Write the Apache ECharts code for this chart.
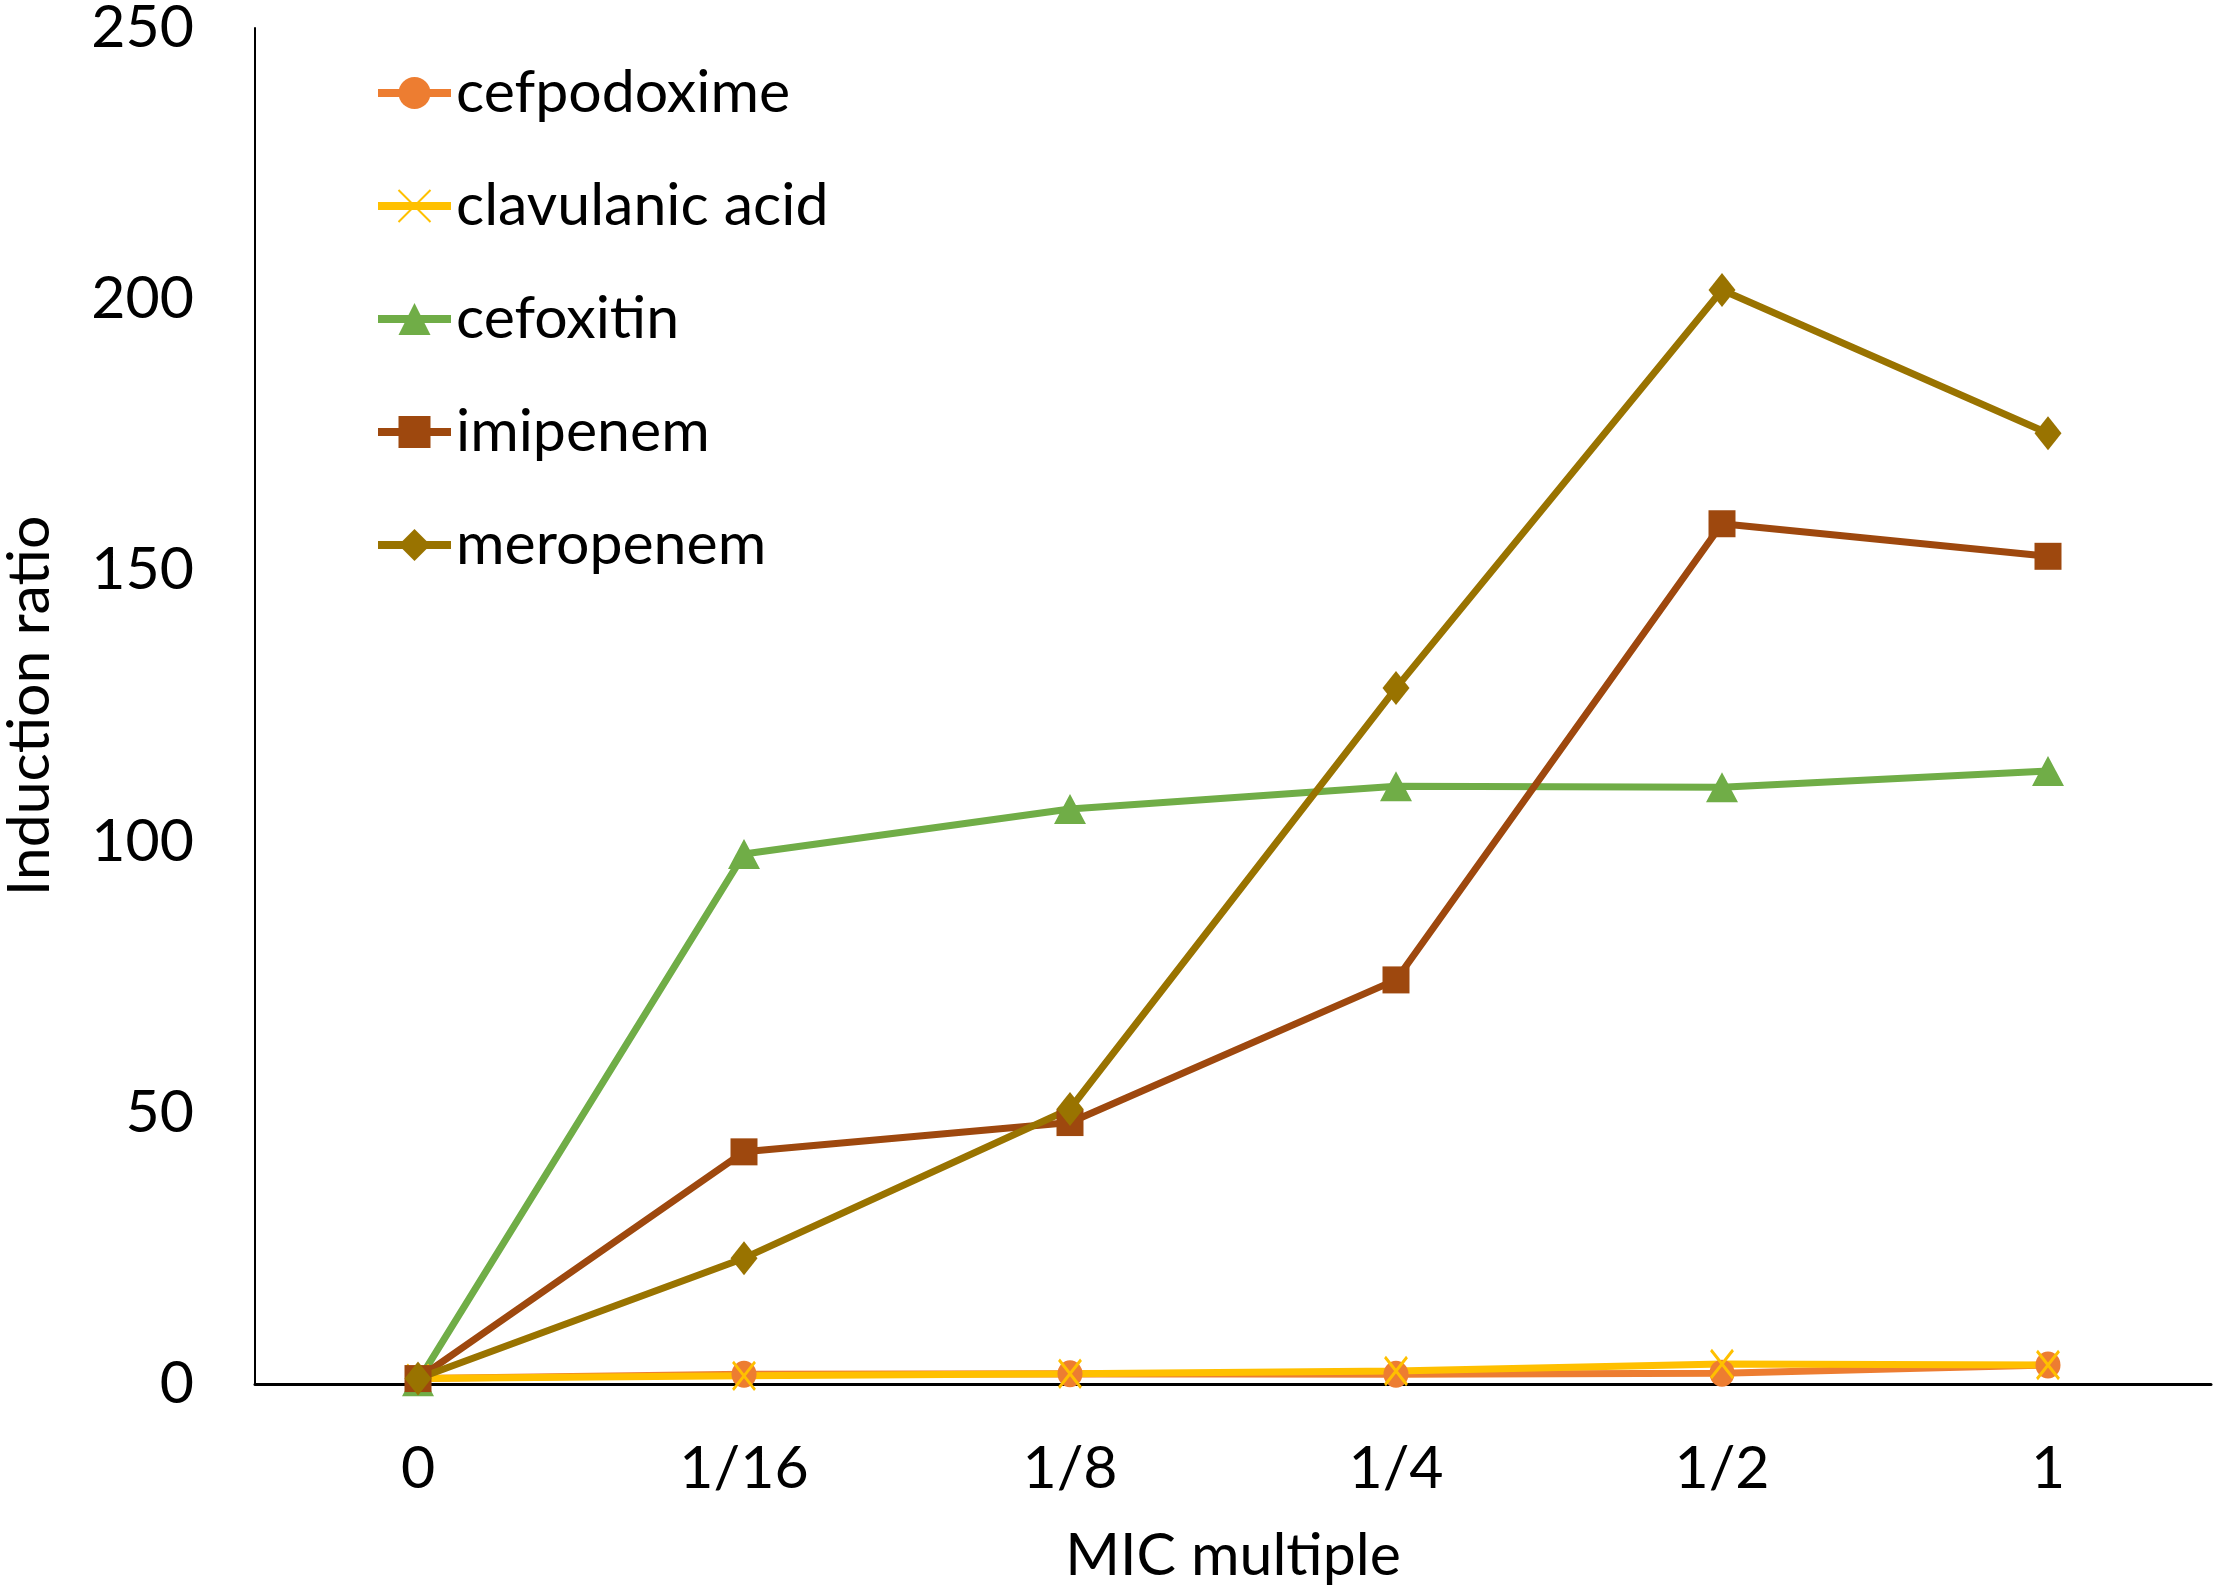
<!DOCTYPE html>
<html>
<head>
<meta charset="utf-8">
<script src="https://cdn.jsdelivr.net/npm/echarts@6/dist/echarts.min.js"></script>
<style>
  html, body { margin: 0; padding: 0; background: #fff; }
  #chart { width: 2221px; height: 1593px; }
</style>
</head>
<body>
<div id="chart"></div>
<script>
  var categories = ["0", "1/16", "1/8", "1/4", "1/2", "1"];
  var cefpodoxime = [1, 1.8, 1.9, 1.8, 2.0, 3.5];
  var clavulanicAcid = [1, 1.5, 1.9, 2.4, 3.7, 3.5];
  var cefoxitin = [0.5, 97.7, 106, 110.2, 110, 113];
  var imipenem = [1, 42.8, 48.2, 74.5, 158.6, 152.6];
  var meropenem = [1, 23.2, 50.7, 128.3, 201.7, 175.3];
  var yTicks = [0, 50, 100, 150, 200, 250];

  var fontFamily = "Lato";
  var crossPath = "path://M0,0L10,10M10,0L0,10";

  function makeSeries(name, data, color, symbol, size) {
    return {
      name: name,
      type: "line",
      data: data,
      symbol: symbol,
      symbolSize: size,
      showSymbol: true,
      lineStyle: { color: color, width: 7 },
      itemStyle: { color: color, borderWidth: 0 },
      emphasis: { disabled: true },
      animation: false,
    };
  }

  var chartDom = document.getElementById("chart");
  var myChart = echarts.init(chartDom, null, { renderer: "canvas" });
  var option;

  var clav = makeSeries("clavulanic acid", clavulanicAcid, "#FFC000", crossPath, [22, 28]);
  clav.itemStyle = { color: "none", borderColor: "#FFC000", borderWidth: 3 };

  option = {
    backgroundColor: "#ffffff",
    animation: false,
    textStyle: { fontFamily: fontFamily },
    legend: {
      orient: "vertical",
      left: 369,
      top: 53,
      itemWidth: 73,
      itemHeight: 40,
      itemGap: 43,
      lineStyle: { width: 8 },
      textStyle: { fontFamily: fontFamily, fontSize: 59, color: "#000", lineHeight: 70 },
      data: ["cefpodoxime", "clavulanic acid", "cefoxitin", "imipenem", "meropenem"],
    },
    grid: {
      left: 255,
      right: 10,
      top: 28,
      bottom: 209,
      containLabel: false,
      outerBoundsMode: "none",
    },
    xAxis: {
      type: "category",
      data: categories,
      boundaryGap: true,
      name: "MIC multiple",
      nameLocation: "middle",
      nameGap: 142,
      nameTextStyle: { fontFamily: fontFamily, fontSize: 59, color: "#000" },
      axisLine: { lineStyle: { color: "#000", width: 3 } },
      axisTick: { show: false },
      axisLabel: { fontFamily: fontFamily, fontSize: 59, color: "#000", margin: 55 },
      splitLine: { show: false },
    },
    yAxis: {
      type: "value",
      min: yTicks[0],
      max: yTicks[yTicks.length - 1],
      interval: 50,
      name: "Induction ratio",
      nameLocation: "middle",
      nameGap: 196,
      nameTextStyle: { fontFamily: fontFamily, fontSize: 59, color: "#000" },
      axisLine: { show: true, lineStyle: { color: "#000", width: 2 } },
      axisTick: { show: false },
      axisLabel: { fontFamily: fontFamily, fontSize: 59, color: "#000", margin: 61 },
      splitLine: { show: false },
    },
    series: [
      makeSeries("cefpodoxime", cefpodoxime, "#ED7D31", "circle", [25, 27]),
      clav,
      makeSeries("cefoxitin", cefoxitin, "#70AD47", "triangle", [32, 30]),
      makeSeries("imipenem", imipenem, "#9E480E", "rect", [27, 27]),
      makeSeries("meropenem", meropenem, "#997300", "diamond", [27, 34]),
    ],
  };
  option && myChart.setOption(option);
</script>
</body>
</html>
